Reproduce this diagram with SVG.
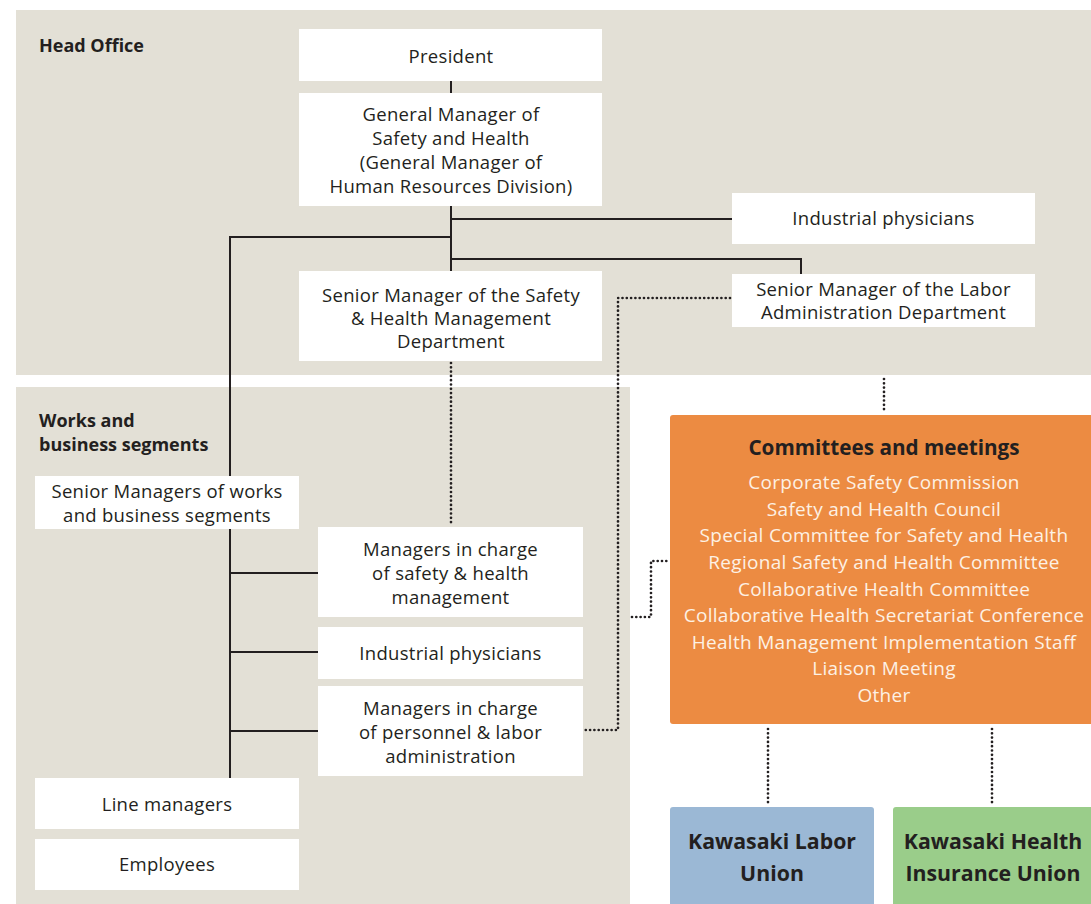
<svg xmlns="http://www.w3.org/2000/svg" width="1091" height="904" viewBox="0 0 1091 904">
  <style>
    .zone { fill: #E3E0D6; }
    .box { fill: #FFFFFF; }
    .t { font-family: "Open Sans", "Noto Sans", sans-serif; font-size: 18.5px; letter-spacing: 0.3px; fill: #231F20; text-anchor: middle; }
    .zt { font-family: "Open Sans", "Noto Sans", sans-serif; font-size: 18px; font-weight: bold; fill: #231F20; }
    .ot { font-family: "Open Sans", "Noto Sans", sans-serif; font-size: 19px; letter-spacing: 0.3px; fill: #FDF1E4; text-anchor: middle; }
    .oh { font-family: "Open Sans", "Noto Sans", sans-serif; font-size: 20.7px; font-weight: bold; fill: #231F20; text-anchor: middle; }
    .ut { font-family: "Open Sans", "Noto Sans", sans-serif; font-size: 21.3px; font-weight: bold; fill: #231F20; text-anchor: middle; }
    .solid { fill: none; stroke: #231F20; stroke-width: 2; }
    .dot { fill: none; stroke: #231F20; stroke-width: 2.7; stroke-dasharray: 0 4.3; stroke-linecap: round; }
  </style>

  <!-- background zones -->
  <g id="zone-head-office">
    <rect class="zone" x="16" y="10" width="1075" height="365"/>
    <text class="zt" x="39" y="52">Head Office</text>
  </g>
  <g id="zone-works">
    <rect class="zone" x="16" y="387" width="614" height="517"/>
    <text class="zt" x="39" y="427">Works and</text>
    <text class="zt" x="39" y="451">business segments</text>
  </g>

  <!-- connectors -->
  <g id="connectors">
    <path class="solid" d="M451 81 V93"/>
    <path class="solid" d="M451 206 V271"/>
    <path class="solid" d="M451 219 H732"/>
    <path class="solid" d="M451 237 H230 V778"/>
    <path class="solid" d="M451 259 H801 V274"/>
    <path class="solid" d="M230 573 H318"/>
    <path class="solid" d="M230 652 H318"/>
    <path class="solid" d="M230 731 H318"/>
    <path class="dot" d="M451 363 V525"/>
    <path class="dot" d="M730 298 H618 V730 H585"/>
    <path class="dot" d="M632 617 H651 V561 H668"/>
    <path class="dot" d="M884 379 V413"/>
    <path class="dot" d="M768 729 V805"/>
    <path class="dot" d="M992 729 V805"/>
  </g>

  <g id="president">
    <rect class="box" x="299" y="29" width="303" height="52"/>
    <text class="t" x="451" y="63">President</text>
  </g>
  <g id="general-manager">
    <rect class="box" x="299" y="93" width="303" height="113"/>
    <text class="t" x="451" y="121">General Manager of</text>
    <text class="t" x="451" y="145">Safety and Health</text>
    <text class="t" x="451" y="169">(General Manager of</text>
    <text class="t" x="451" y="193">Human Resources Division)</text>
  </g>
  <g id="industrial-physicians-head">
    <rect class="box" x="732" y="193" width="303" height="51"/>
    <text class="t" x="883.5" y="225">Industrial physicians</text>
  </g>
  <g id="senior-manager-safety">
    <rect class="box" x="299" y="271" width="303" height="90"/>
    <text class="t" x="451" y="302">Senior Manager of the Safety</text>
    <text class="t" x="451" y="325">&amp; Health Management</text>
    <text class="t" x="451" y="348">Department</text>
  </g>
  <g id="senior-manager-labor">
    <rect class="box" x="732" y="274" width="303" height="53"/>
    <text class="t" x="883.5" y="296">Senior Manager of the Labor</text>
    <text class="t" x="883.5" y="319">Administration Department</text>
  </g>
  <g id="senior-managers-works">
    <rect class="box" x="35" y="476" width="264" height="53"/>
    <text class="t" x="167" y="498">Senior Managers of works</text>
    <text class="t" x="167" y="522">and business segments</text>
  </g>
  <g id="managers-safety-health">
    <rect class="box" x="318" y="527" width="265" height="90"/>
    <text class="t" x="450.5" y="556">Managers in charge</text>
    <text class="t" x="450.5" y="580">of safety &amp; health</text>
    <text class="t" x="450.5" y="604">management</text>
  </g>
  <g id="industrial-physicians-works">
    <rect class="box" x="318" y="627" width="265" height="52"/>
    <text class="t" x="450.5" y="660">Industrial physicians</text>
  </g>
  <g id="managers-personnel">
    <rect class="box" x="318" y="686" width="265" height="90"/>
    <text class="t" x="450.5" y="715">Managers in charge</text>
    <text class="t" x="450.5" y="739">of personnel &amp; labor</text>
    <text class="t" x="450.5" y="763">administration</text>
  </g>
  <g id="line-managers">
    <rect class="box" x="35" y="778" width="264" height="51"/>
    <text class="t" x="167" y="811">Line managers</text>
  </g>
  <g id="employees">
    <rect class="box" x="35" y="839" width="264" height="51"/>
    <text class="t" x="167" y="871">Employees</text>
  </g>

  <g id="committees">
    <rect x="670" y="415" width="430" height="309" rx="3" fill="#EC8B42"/>
    <text class="oh" x="884" y="455">Committees and meetings</text>
    <text class="ot" x="884" y="489">Corporate Safety Commission</text>
    <text class="ot" x="884" y="516">Safety and Health Council</text>
    <text class="ot" x="884" y="542">Special Committee for Safety and Health</text>
    <text class="ot" x="884" y="569">Regional Safety and Health Committee</text>
    <text class="ot" x="884" y="596">Collaborative Health Committee</text>
    <text class="ot" x="884" y="622">Collaborative Health Secretariat Conference</text>
    <text class="ot" x="884" y="649">Health Management Implementation Staff</text>
    <text class="ot" x="884" y="675">Liaison Meeting</text>
    <text class="ot" x="884" y="702">Other</text>
  </g>

  <g id="labor-union">
    <rect x="670" y="807" width="204" height="105" rx="3" fill="#9BB8D5"/>
    <text class="ut" x="772" y="849">Kawasaki Labor</text>
    <text class="ut" x="772" y="881">Union</text>
  </g>
  <g id="health-insurance-union">
    <rect x="893" y="807" width="210" height="105" rx="3" fill="#9ACD8A"/>
    <text class="ut" x="993" y="849">Kawasaki Health</text>
    <text class="ut" x="993" y="881">Insurance Union</text>
  </g>
</svg>
